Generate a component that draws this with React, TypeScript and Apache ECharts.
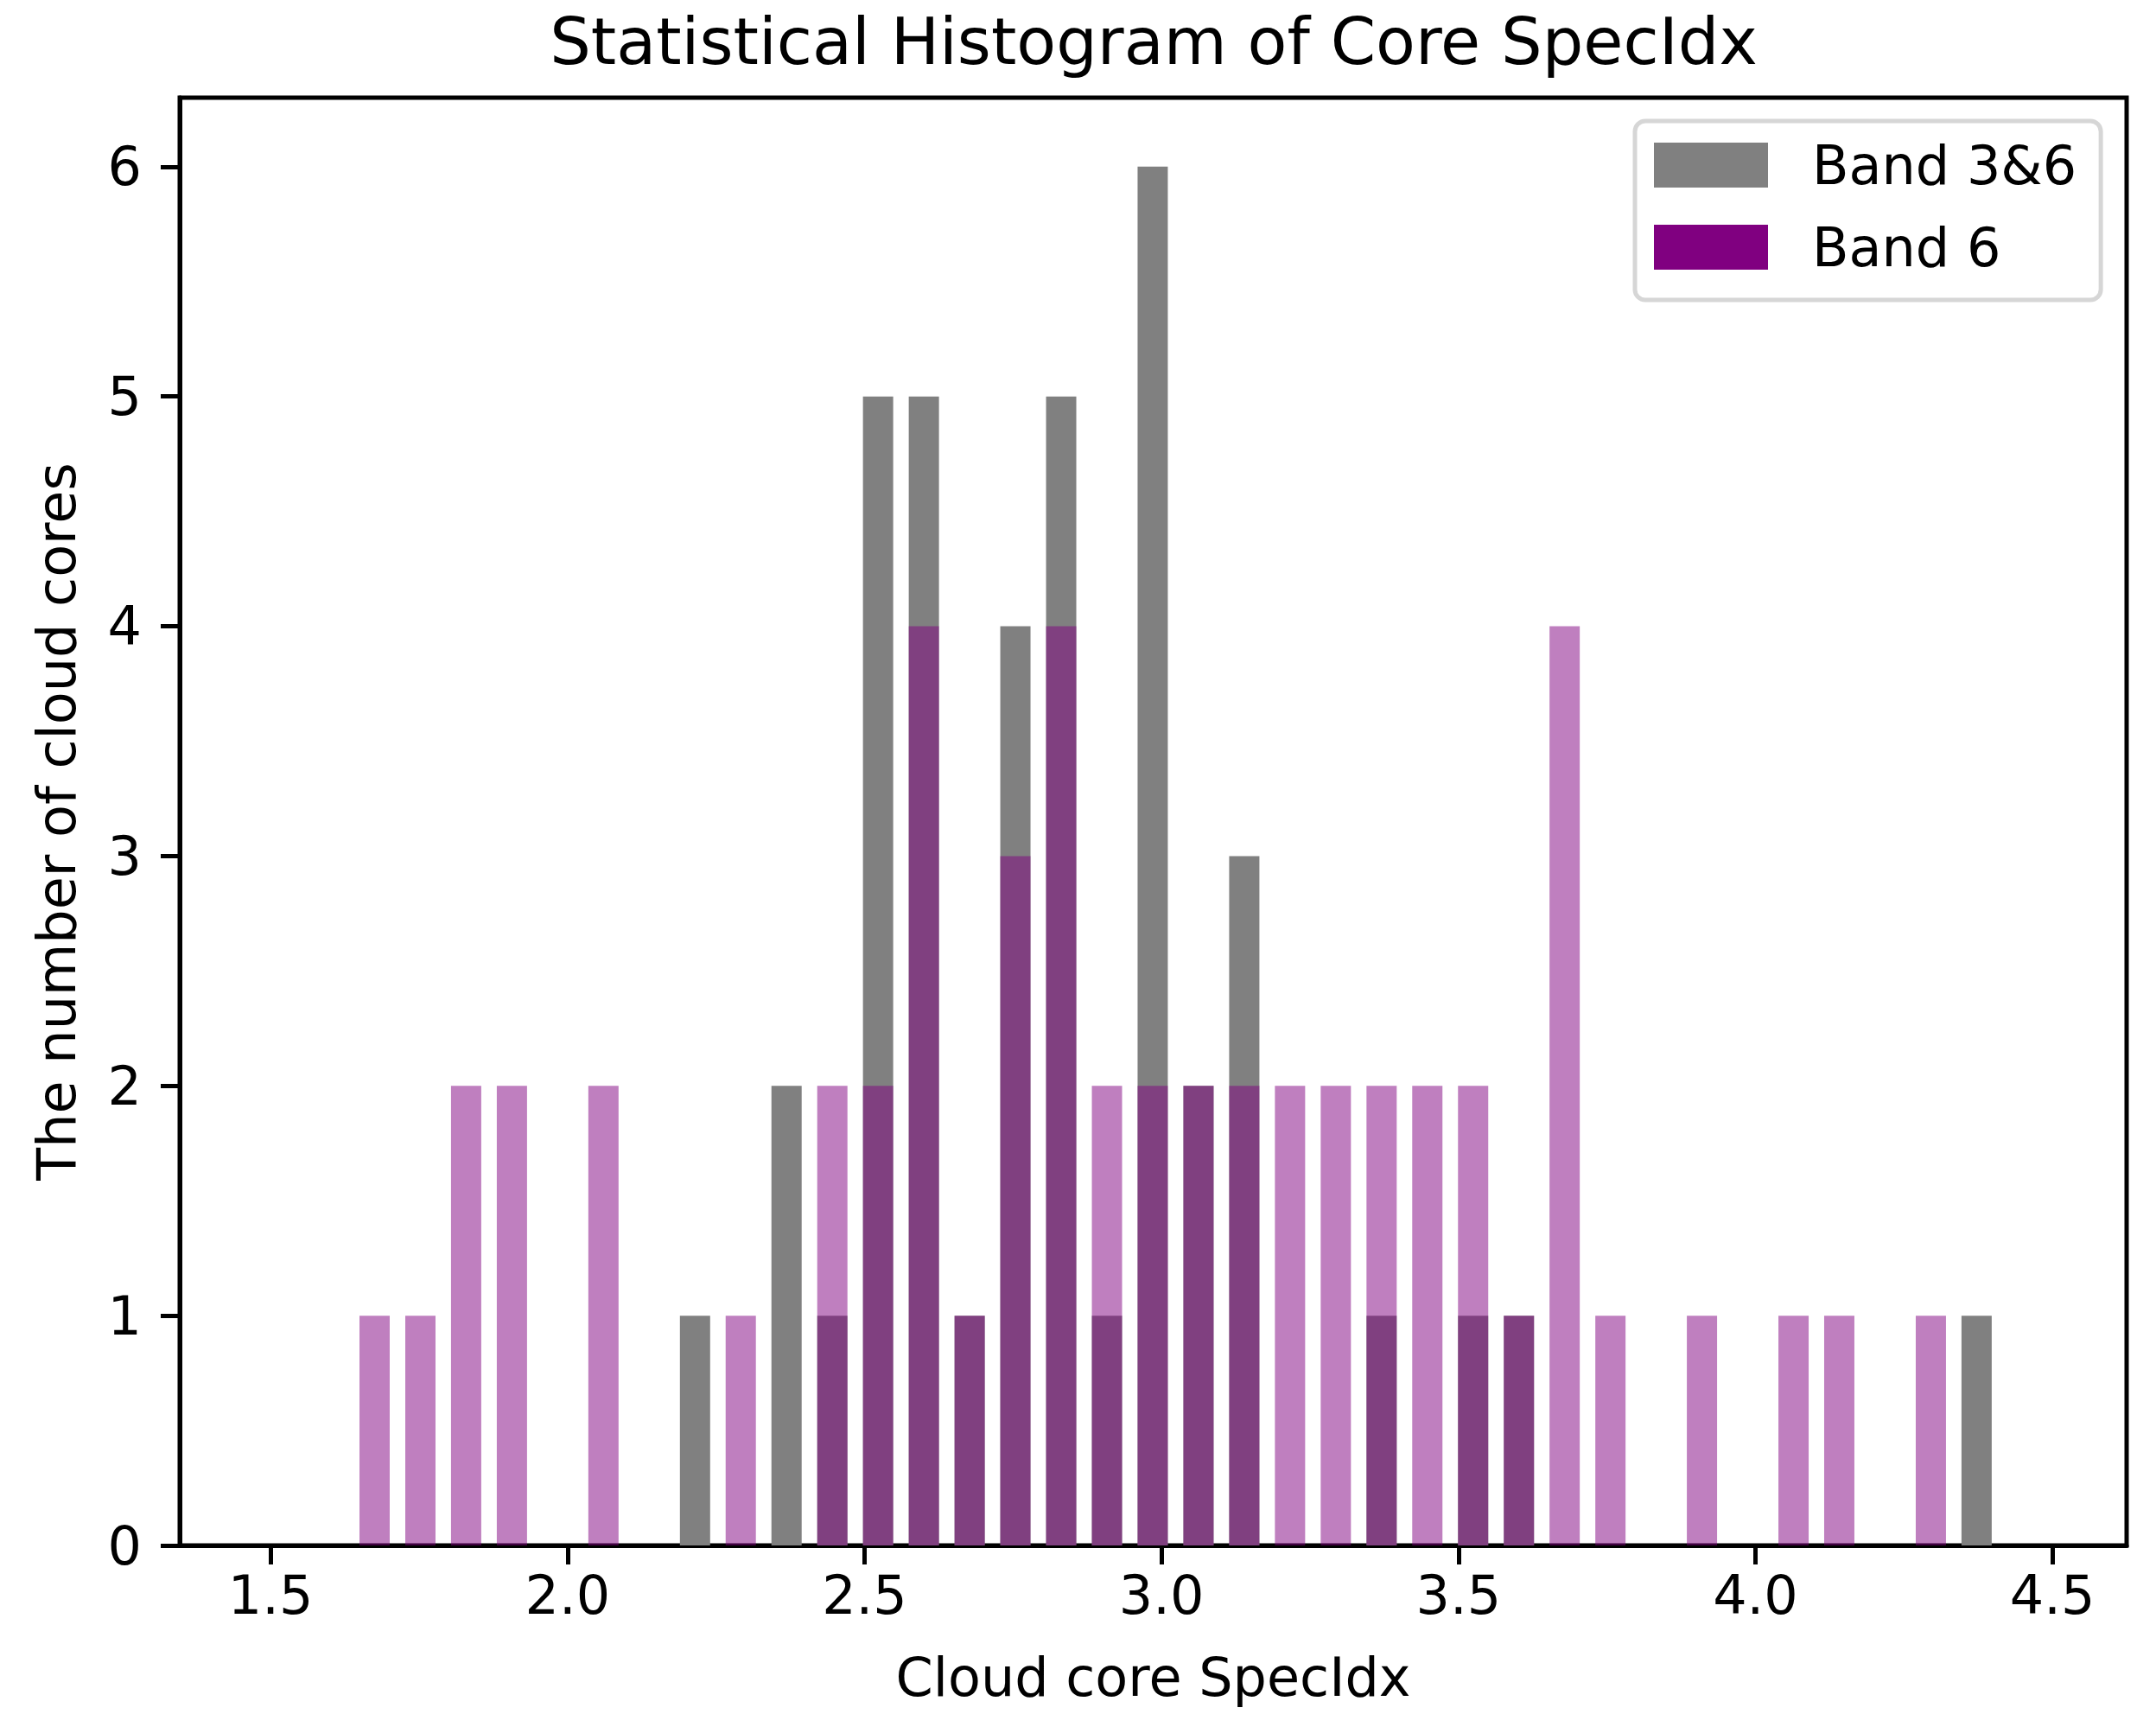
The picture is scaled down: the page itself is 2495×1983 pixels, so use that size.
import React, { useEffect, useRef } from "react";
import * as echarts from "echarts";

// Histogram bin centers (Cloud core SpecIdx)
const binCenters = [
  1.6751, 1.7522, 1.8292, 1.9063, 1.9834, 2.0604, 2.1375, 2.2146, 2.2916,
  2.3687, 2.4458, 2.5228, 2.5999, 2.677, 2.754, 2.8311, 2.9082, 2.9852,
  3.0623, 3.1394, 3.2164, 3.2935, 3.3706, 3.4476, 3.5247, 3.6018, 3.6788,
  3.7559, 3.833, 3.91, 3.9871, 4.0642, 4.1412, 4.2183, 4.2954, 4.3724,
];
// Counts for Band 3&6
const band36Counts = [
  0, 0, 0, 0, 0, 0, 0, 1, 0, 2, 1, 5, 5, 1, 4, 5, 1, 6, 2, 3, 0, 0, 1, 0, 1,
  1, 0, 0, 0, 0, 0, 0, 0, 0, 0, 1,
];
// Counts for Band 6
const band6Counts = [
  1, 1, 2, 2, 0, 2, 0, 0, 1, 0, 2, 2, 4, 1, 3, 4, 2, 2, 2, 2, 2, 2, 2, 2, 2,
  1, 4, 1, 0, 1, 0, 1, 1, 0, 1, 0,
];
const xTicks = [1.5, 2.0, 2.5, 3.0, 3.5, 4.0, 4.5];
const yTicks = [0, 1, 2, 3, 4, 5, 6];
const seriesNames = ["Band 3&6", "Band 6"];

const BAR_WIDTH = 0.0509; // in data units (bin width * rwidth)
const FONT = "DejaVu Sans";

export default function App() {
  const ref = useRef<HTMLDivElement>(null);

  useEffect(() => {
    document.body.style.margin = "0";
    const chart = echarts.init(ref.current!, null, { renderer: "svg" });

    const makeRender = (fill: string) => (params: any, api: any) => {
      const x = api.value(0);
      const y = api.value(1);
      if (!y) return null;
      const p0 = api.coord([x - BAR_WIDTH / 2, y]);
      const p1 = api.coord([x + BAR_WIDTH / 2, 0]);
      return {
        type: "rect",
        shape: { x: p0[0], y: p0[1], width: p1[0] - p0[0], height: p1[1] - p0[1] },
        style: { fill },
      };
    };

    const band36Data = binCenters.map((c, i) => [c, band36Counts[i]]);
    const band6Data = binCenters.map((c, i) => [c, band6Counts[i]]);

    chart.setOption({
      animation: false,
      backgroundColor: "#ffffff",
      textStyle: { fontFamily: FONT },
      title: {
        text: "Statistical Histogram of Core SpecIdx",
        left: 1335,
        top: 10,
        textAlign: "center",
        padding: 0,
        textStyle: { fontFamily: FONT, fontSize: 75, fontWeight: "normal", color: "#000" },
      },
      legend: {
        left: 1892,
        top: 140,
        orient: "vertical",
        padding: [20, 28, 30, 22],
        itemWidth: 132,
        itemHeight: 52,
        itemGap: 33,
        icon: "rect",
        backgroundColor: "rgba(255,255,255,0.8)",
        borderColor: "#d6d6d6",
        borderWidth: 5,
        borderRadius: 12,
        textStyle: {
          fontFamily: FONT,
          fontSize: 62,
          color: "#000",
          padding: [0, 0, 0, 46],
        },
        data: [
          { name: seriesNames[0], itemStyle: { color: "#808080", opacity: 1 } },
          { name: seriesNames[1], itemStyle: { color: "#800080", opacity: 1 } },
        ],
      },
      grid: {
        left: 208,
        right: 34,
        top: 113,
        bottom: 195,
        show: true,
        borderColor: "#000",
        borderWidth: 5,
        backgroundColor: "transparent",
      },
      xAxis: {
        type: "value",
        min: 1.347,
        max: 4.625,
        name: "Cloud core SpecIdx",
        nameLocation: "middle",
        nameGap: 121,
        nameTextStyle: { fontFamily: FONT, fontSize: 62, color: "#000" },
        axisLine: { show: true, onZero: false, lineStyle: { color: "#000", width: 5 } },
        axisTick: {
          show: true,
          length: 22,
          inside: false,
          customValues: xTicks,
          lineStyle: { color: "#000", width: 5 },
        },
        axisLabel: {
          show: true,
          margin: 26,
          customValues: xTicks,
          formatter: (v: number) => v.toFixed(1),
          fontFamily: FONT,
          fontSize: 62,
          color: "#000",
        },
        splitLine: { show: false },
      },
      yAxis: {
        type: "value",
        min: 0,
        max: 6.3,
        name: "The number of cloud cores",
        nameLocation: "middle",
        nameGap: 112,
        nameRotate: 90,
        nameTextStyle: { fontFamily: FONT, fontSize: 62, color: "#000" },
        axisLine: { show: true, lineStyle: { color: "#000", width: 5 } },
        axisTick: {
          show: true,
          length: 22,
          customValues: yTicks,
          lineStyle: { color: "#000", width: 5 },
        },
        axisLabel: {
          show: true,
          margin: 44,
          customValues: yTicks,
          formatter: (v: number) => String(v),
          fontFamily: FONT,
          fontSize: 62,
          color: "#000",
        },
        splitLine: { show: false },
      },
      series: [
        {
          name: seriesNames[0],
          type: "custom",
          renderItem: makeRender("#808080"),
          itemStyle: { color: "#808080" },
          encode: { x: 0, y: 1 },
          data: band36Data,
          z: 2,
        },
        {
          name: seriesNames[1],
          type: "custom",
          renderItem: makeRender("rgba(128,0,128,0.5)"),
          itemStyle: { color: "#800080" },
          encode: { x: 0, y: 1 },
          data: band6Data,
          z: 3,
        },
      ],
    });

    return () => chart.dispose();
  }, []);

  return (
    <div
      ref={ref}
      style={{ position: "absolute", left: 0, top: 0, width: 2495, height: 1983 }}
    />
  );
}
